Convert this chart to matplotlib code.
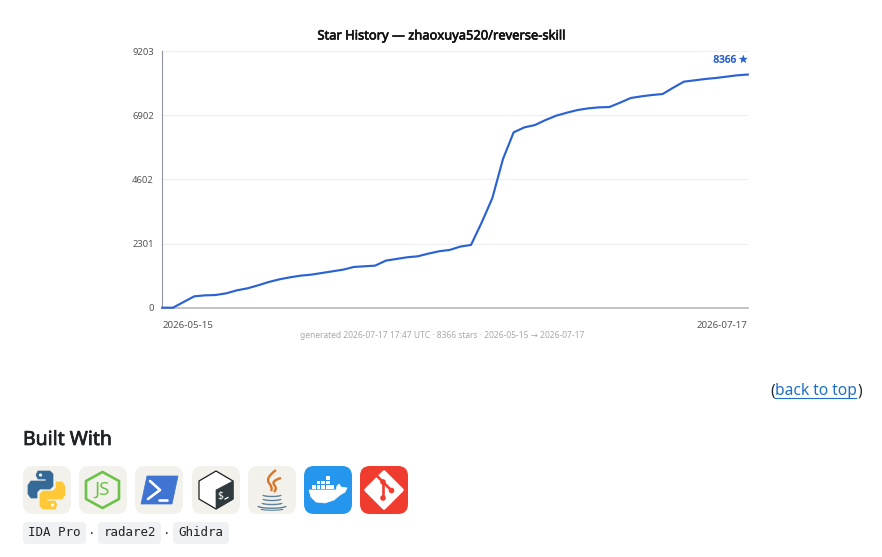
import numpy as np
import pandas as pd
import matplotlib
matplotlib.use("Agg")
import matplotlib.pyplot as plt
import matplotlib.patheffects as pe
from matplotlib.patches import FancyBboxPatch, Polygon, Circle, Arc, PathPatch, Rectangle
from matplotlib.path import Path

TITLE = "Star History — zhaoxuya520/reverse-skill"
FOOTER = "generated 2026-07-17 17:47 UTC · 8366 stars · 2026-05-15 → 2026-07-17"
START = "2026-05-15"
END = "2026-07-17"
stars = [0, 0, 204, 407, 443, 455, 515, 623, 695, 803, 922, 1018, 1090, 1150,
         1186, 1246, 1306, 1366, 1462, 1486, 1510, 1689, 1749, 1809, 1845,
         1941, 2025, 2073, 2193, 2252, 3055, 3930, 5331, 6290, 6469, 6553,
         6733, 6889, 6996, 7092, 7152, 7188, 7200, 7356, 7523, 7583, 7631,
         7667, 7895, 8110, 8158, 8206, 8242, 8290, 8338, 8366]
y_ticks = [0, 2301, 4602, 6902, 9203]
tags = ["IDA Pro", "radare2", "Ghidra"]

plt.rcParams["font.family"] = ["Noto Sans", "DejaVu Sans"]
W, H = 882, 557
fig = plt.figure(figsize=(W / 100, H / 100), dpi=100, facecolor="white")


def faux_bold(t, w, color):
    t.set_path_effects([pe.withStroke(linewidth=w, foreground=color)])
    return t


# chart
ax = fig.add_axes([162.3 / W, 1 - 307.7 / H, 585.5 / W, 256.5 / H])
dates = pd.date_range(START, END, periods=len(stars))
BLUE = "#2b62d3"
ax.plot(dates, stars, color=BLUE, lw=1.55, solid_joinstyle="round", clip_on=False, zorder=3)
ax.set_xlim(pd.Timestamp(START), pd.Timestamp(END))
ax.set_ylim(0, y_ticks[-1])
ax.set_yticks(y_ticks)
ax.set_yticklabels([str(v) for v in y_ticks], fontsize=6.8, color="#555555")
ax.tick_params(axis="y", length=0, pad=6)
ax.set_xticks([pd.Timestamp(START), pd.Timestamp(END)])
ax.set_xticklabels([START, END], fontsize=7, color="#555555")
ax.get_xticklabels()[0].set_ha("left")
ax.get_xticklabels()[1].set_ha("right")
ax.tick_params(axis="x", length=0, pad=9.5)
ax.grid(axis="y", color="#eeeeee", lw=0.8)
ax.set_axisbelow(True)
for s in ["top", "right"]:
    ax.spines[s].set_visible(False)
ax.spines["left"].set_color("#8f93a0")
ax.spines["left"].set_linewidth(0.8)
ax.spines["bottom"].set_color("#b9b9bd")
ax.spines["bottom"].set_linewidth(1.2)

# page overlay in pixel coordinates
pg = fig.add_axes([0, 0, 1, 1], facecolor="none")
pg.set_xlim(0, W)
pg.set_ylim(H, 0)
pg.axis("off")

faux_bold(pg.text(442, 36, TITLE, ha="center", va="center", fontsize=9.3, color="#111111"), 0.45, "#111111")
faux_bold(pg.text(748, 60, f"{stars[-1]} ★", ha="right", va="center", fontsize=7.2, color=BLUE), 0.3, BLUE)
pg.text(442, 336, FOOTER, ha="center", va="center", fontsize=6.1, color="#a8a8a8")

# back to top
LINK = "#1f6fc5"
pg.text(770.5, 391, "(", ha="left", va="center", fontsize=11.2, color="#2b2f33")
pg.text(775, 391, "back to top", ha="left", va="center", fontsize=11.2, color=LINK)
pg.plot([775, 856], [398, 398], color=LINK, lw=0.8)
pg.text(862, 391, ")", ha="right", va="center", fontsize=11.2, color="#2b2f33")

faux_bold(pg.text(23, 440, "Built With", ha="left", va="center", fontsize=14, color="#1f2328"), 0.5, "#1f2328")

# chips
chips = [(23, 63), (98, 63), (173, 56)]
for (cx, cw), label in zip(chips, tags):
    pg.add_patch(FancyBboxPatch((cx, 522), cw, 22, boxstyle="round,pad=0,rounding_size=4", fc="#eff1f3", ec="none", zorder=1))
    pg.text(cx + cw / 2, 533, label, ha="center", va="center", fontsize=9, family="DejaVu Sans Mono", color="#1f2328", zorder=2)
for dx in (92, 167):
    pg.text(dx, 533, "·", ha="center", va="center", fontsize=9, family="DejaVu Sans Mono", color="#33373b")


# icons
def tile(x0, fc):
    pg.add_patch(FancyBboxPatch((x0, 466), 48, 48, boxstyle="round,pad=0,rounding_size=10", fc=fc, ec="none", zorder=1))


def P(x0, pts):
    return [(x0 + a, 466 + b) for a, b in pts]


BG = "#f2f1eb"
# python
x0 = 23
tile(x0, BG)
blue_pts = [(15, 5), (27, 5), (30, 8), (30, 20), (27, 23), (17, 23), (14, 26), (14, 32), (8, 32), (5, 28),
            (5, 19), (8, 15), (23, 15), (23, 13), (15, 13), (13, 9)]
pg.add_patch(Polygon(P(x0, blue_pts), fc="#366a96", ec="#366a96", lw=0.5, joinstyle="round", zorder=2))
yellow_pts = [(47 - a, 48 - b) for a, b in blue_pts]
pg.add_patch(Polygon(P(x0, yellow_pts), fc="#ffc836", ec="#ffc836", lw=0.5, joinstyle="round", zorder=2))
pg.add_patch(Circle((x0 + 17.5, 466 + 9), 1.6, fc="white", ec="none", zorder=3))
pg.add_patch(Circle((x0 + 29.5, 466 + 39), 1.6, fc="white", ec="none", zorder=3))

# node
x0 = 79
tile(x0, BG)
hex_n = [(23.5, 6), (40, 15), (40, 33), (23.5, 42), (7, 33), (7, 15)]
pg.add_patch(Polygon(P(x0, hex_n), fc="none", ec="#6cc24a", lw=1.9, joinstyle="round", zorder=2))
pg.text(x0 + 23.5, 466 + 23.5, "JS", ha="center", va="center", fontsize=13.5, color="#6cc24a", zorder=3)

# powershell
x0 = 135
tile(x0, BG)
pg.add_patch(Polygon(P(x0, [(12, 10), (43, 10), (37, 38), (6, 38)]), fc="#3f74d2", ec="#3f74d2", lw=0.5,
                     joinstyle="round", zorder=2))
pg.plot(*zip(*P(x0, [(15, 15), (25, 24), (13, 33)])), color="white", lw=1.9, zorder=3, solid_capstyle="round")
pg.plot(*zip(*P(x0, [(24, 33.5), (32, 33.5)])), color="white", lw=1.9, zorder=3, solid_capstyle="round")

# bash
x0 = 192
tile(x0, BG)
hex_b = [(24, 5), (41, 15), (41, 33), (24, 43), (7, 33), (7, 15)]
pg.add_patch(Polygon(P(x0, hex_b), fc="white", ec="#1b1b1b", lw=0.9, joinstyle="round", zorder=2))
pg.add_patch(Polygon(P(x0, [(41, 15), (41, 33), (24, 43), (24, 24)]), fc="#2f3a3e", ec="#2f3a3e", lw=0.5,
                     joinstyle="round", zorder=3))
pg.text(x0 + 28.5, 466 + 30.5, "$", ha="center", va="center", fontsize=7.5, color="white", zorder=4)
pg.plot(*zip(*P(x0, [(33, 33), (36, 31.5)])), color="white", lw=0.9, zorder=4)

# java
x0 = 248
tile(x0, BG)
flame_paths = [[(28, 4), (17, 12), (21, 17), (25, 22), (23, 25)],
               [(33, 12), (22, 15), (27, 20), (29, 23), (26, 26)]]
for f in flame_paths:
    pts = P(x0, f)
    codes = [Path.MOVETO, Path.CURVE3, Path.CURVE3, Path.CURVE3, Path.CURVE3]
    pg.add_patch(PathPatch(Path(pts, codes), fc="none", ec="#d9752a", lw=1.7, zorder=2))
for cy, w, h in [(29, 18, 3), (33, 18, 3), (37, 20, 3)]:
    pg.add_patch(Arc((x0 + 24, 466 + cy), w, h, theta1=0, theta2=180, ec="#5f8199", lw=1.0, zorder=2))
pg.add_patch(Arc((x0 + 24, 466 + 40), 28, 4.5, theta1=0, theta2=180, ec="#5f8199", lw=1.0, zorder=2))
pg.add_patch(Arc((x0 + 24, 466 + 43), 22, 2.5, theta1=0, theta2=180, ec="#5f8199", lw=0.8, zorder=2))

# docker
x0 = 304
tile(x0, "#2496ed")
for a, b in [(8, 19), (12.6, 19), (17.2, 19), (21.8, 19), (26.4, 19),
             (12.6, 14.6), (17.2, 14.6), (21.8, 14.6), (21.8, 10.2)]:
    pg.add_patch(Rectangle((x0 + a, 466 + b), 3.8, 3.8, fc="white", ec="none", zorder=2))
whale = [(5, 24), (32, 24), (33, 20), (35, 18), (37, 21), (43, 22), (41, 26), (36, 29), (30, 34), (21, 37), (12, 36), (7, 31)]
pg.add_patch(Polygon(P(x0, whale), fc="white", ec="white", lw=0.5, joinstyle="round", zorder=2))

# git
x0 = 360
tile(x0, "#f03c2e")
diamond = [(24, 6), (42, 24), (24, 42), (6, 24)]
pg.add_patch(Polygon(P(x0, diamond), fc="white", ec="white", lw=2.5, joinstyle="round", zorder=2))
pg.plot(*zip(*P(x0, [(16, 9), (31.5, 24.5)])), color="#f03c2e", lw=1.9, zorder=3)
pg.plot(*zip(*P(x0, [(23, 16), (23, 32)])), color="#f03c2e", lw=1.9, zorder=3)
for a, b in [(23, 16), (31.5, 24.5), (23, 32)]:
    pg.add_patch(Circle((x0 + a, 466 + b), 2.8, fc="#f03c2e", ec="none", zorder=3))

fig.savefig("out.png", dpi=100, facecolor="white")
